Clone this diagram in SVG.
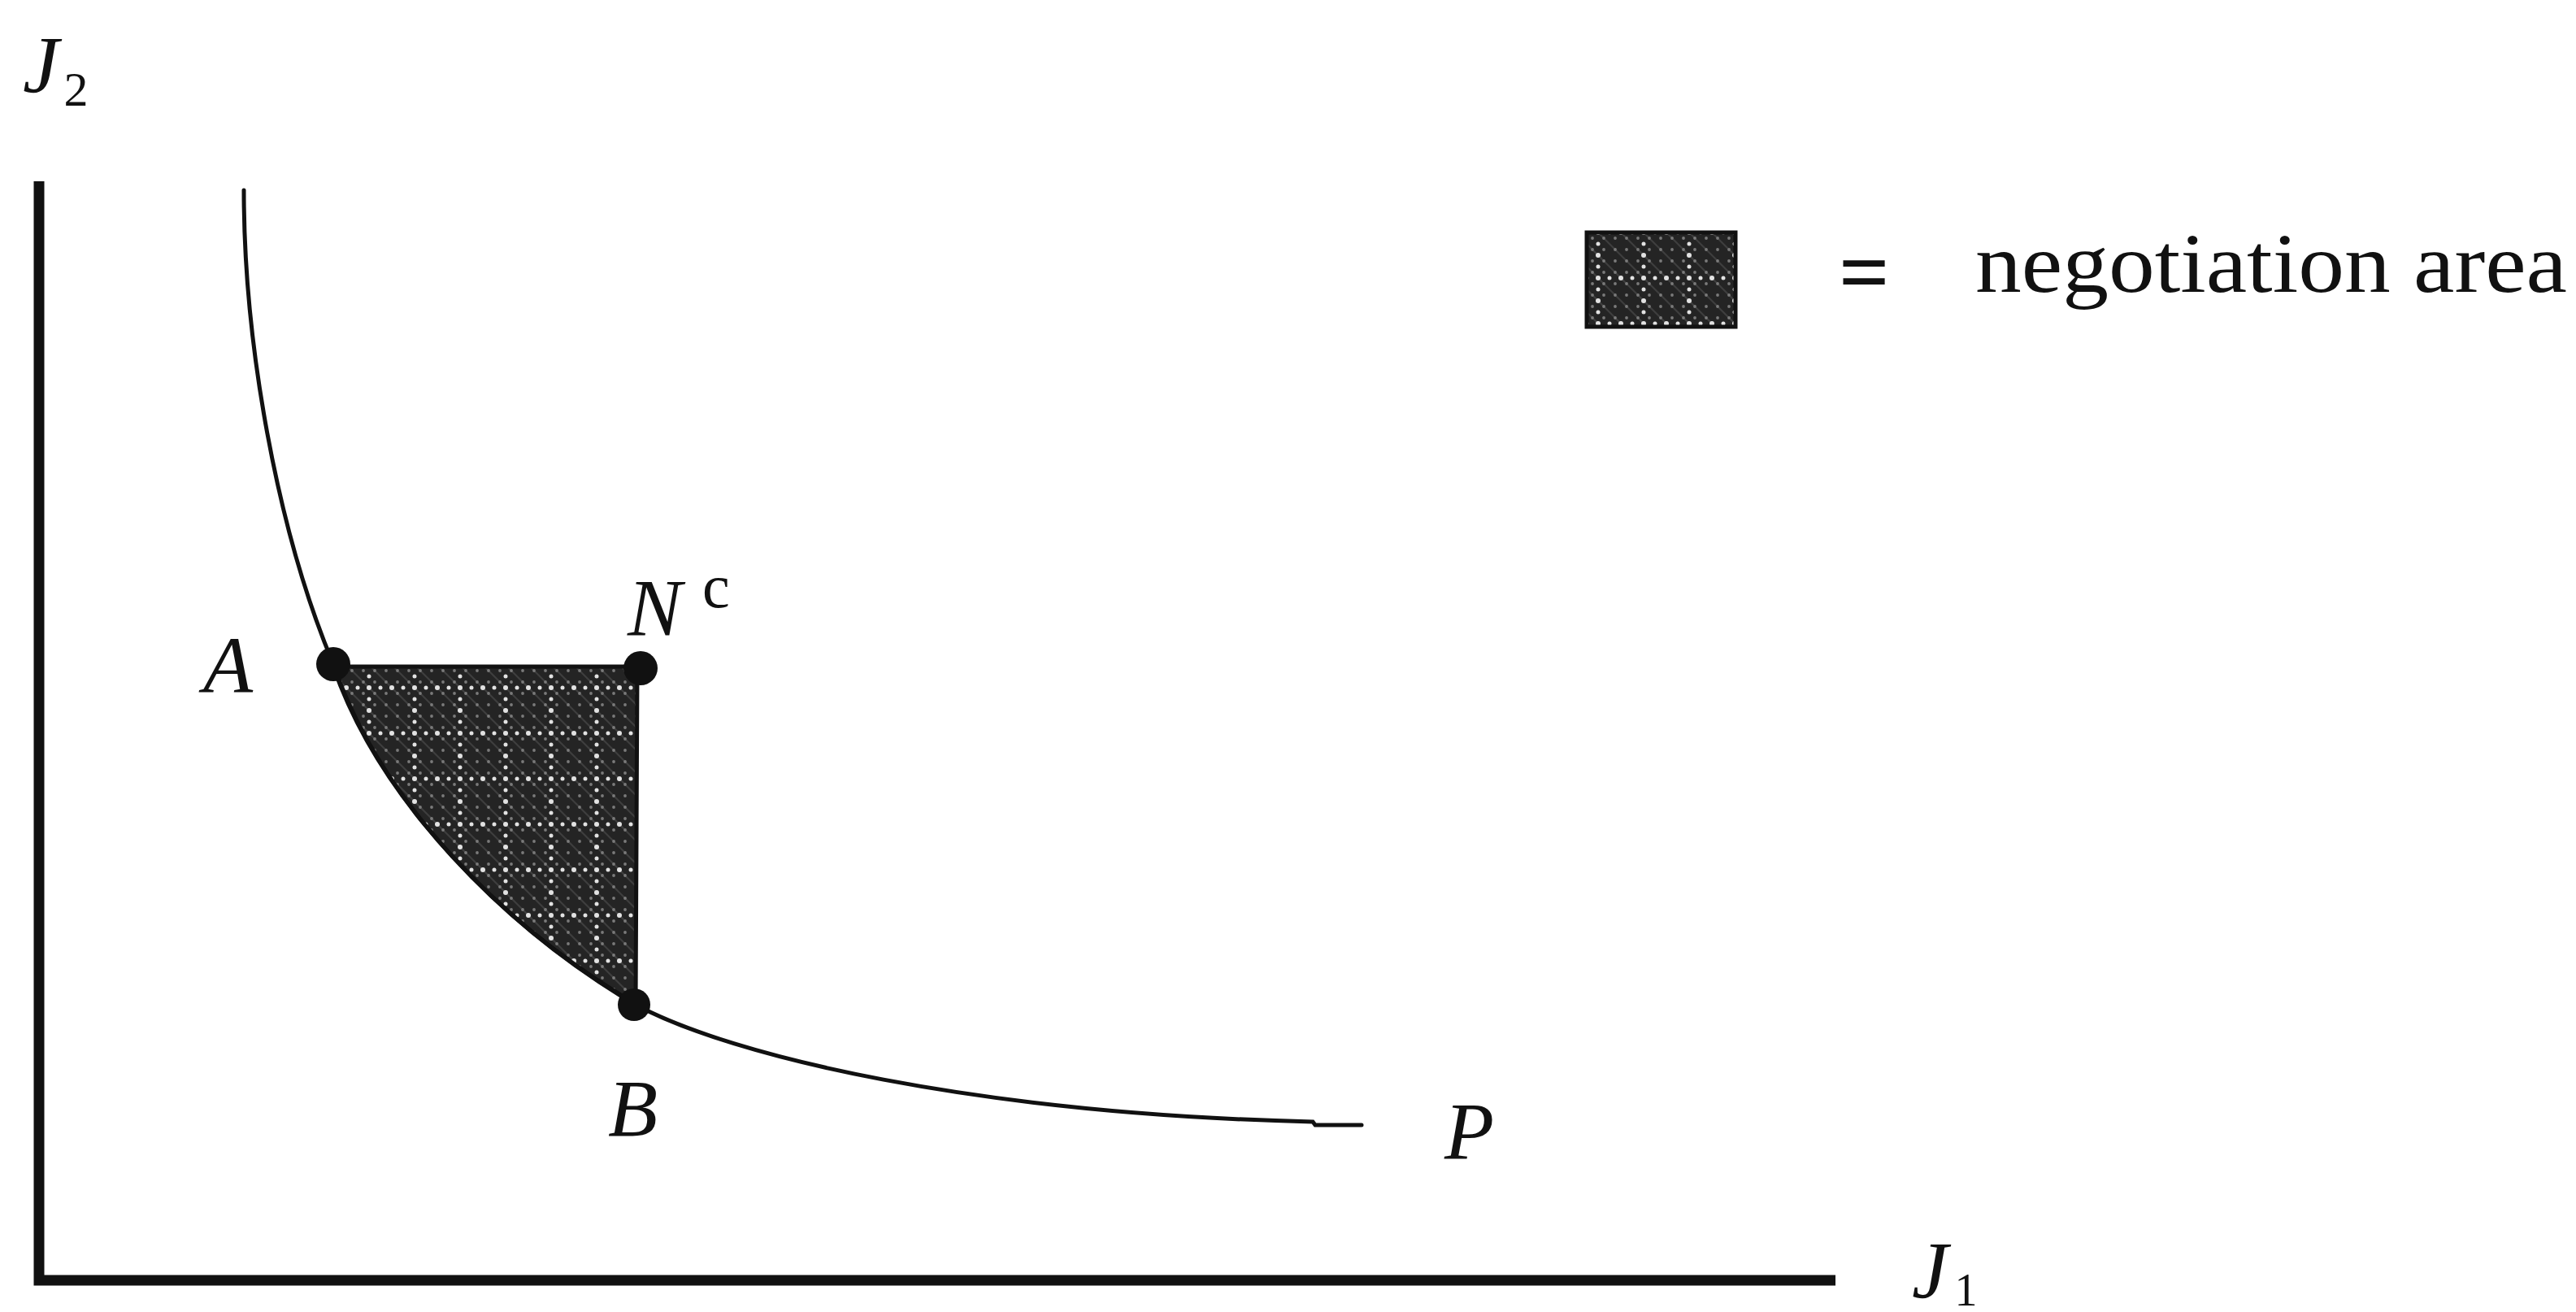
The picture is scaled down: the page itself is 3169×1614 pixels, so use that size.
<svg xmlns="http://www.w3.org/2000/svg" width="3169" height="1614" viewBox="0 0 3169 1614">
  <style>
    .lbl { font-family: "Liberation Serif", "Times New Roman", serif; font-style: italic; fill: #111; }
    .txt { font-family: "Liberation Serif", "Times New Roman", serif; fill: #111; }
    .axis { fill: none; stroke: #111; stroke-width: 13; stroke-linejoin: miter; }
    .curve { fill: none; stroke: #111; stroke-width: 5; stroke-linecap: round; }
    .pt { fill: #111; }
    .shade { fill: url(#dots); stroke: #111; stroke-width: 5; stroke-linejoin: round; }
  </style>
  <defs>
    <pattern id="dots" patternUnits="userSpaceOnUse" width="56" height="56" x="6" y="6">
      <rect width="56" height="56" fill="#242424"/>
      <g stroke="#3e3e3e" stroke-width="2">
        <path d="M 0 0 L 56 56 M 28 0 L 56 28 M 0 28 L 28 56"/>
      </g>
      <g fill="#7a7a7a">
        <circle cx="7" cy="7" r="1.9"/><circle cx="21" cy="7" r="1.9"/><circle cx="35" cy="7" r="1.9"/><circle cx="49" cy="7" r="1.9"/>
        <circle cx="7" cy="21" r="1.9"/><circle cx="21" cy="21" r="1.9"/><circle cx="35" cy="21" r="1.9"/><circle cx="49" cy="21" r="1.9"/>
        <circle cx="7" cy="35" r="1.9"/><circle cx="21" cy="35" r="1.9"/><circle cx="35" cy="35" r="1.9"/><circle cx="49" cy="35" r="1.9"/>
        <circle cx="7" cy="49" r="1.9"/><circle cx="21" cy="49" r="1.9"/><circle cx="35" cy="49" r="1.9"/><circle cx="49" cy="49" r="1.9"/>
      </g>
      <g fill="#e2e2e2">
        <circle cx="0" cy="0" r="3"/><circle cx="14" cy="0" r="2.5"/><circle cx="28" cy="0" r="3"/><circle cx="42" cy="0" r="2.5"/><circle cx="56" cy="0" r="3"/>
        <circle cx="0" cy="14" r="2.5"/><circle cx="0" cy="28" r="3"/><circle cx="0" cy="42" r="2.5"/><circle cx="0" cy="56" r="3"/>
        <circle cx="14" cy="56" r="2.5"/><circle cx="28" cy="56" r="3"/><circle cx="42" cy="56" r="2.5"/><circle cx="56" cy="56" r="3"/>
        <circle cx="56" cy="14" r="2.5"/><circle cx="56" cy="28" r="3"/><circle cx="56" cy="42" r="2.5"/>
      </g>
    </pattern>
  </defs>
  <rect width="3169" height="1614" fill="#ffffff"/>

  <g id="axes">
    <path class="axis" d="M 48 223 V 1575 H 2258"/>
    <text class="lbl" x="28" y="113" font-size="100">J<tspan font-style="normal" font-size="60" dx="6" dy="17">2</tspan></text>
    <text class="lbl" x="2352" y="1596" font-size="100">J<tspan font-style="normal" font-size="56" dx="8" dy="10">1</tspan></text>
  </g>

  <g id="negotiation-area">
    <path class="shade" d="M 410 820 L 784 820 L 782 1235 C 620 1140, 467 985, 410 820 Z"/>
  </g>

  <g id="connectors">
    <path id="pareto-curve" class="curve" d="M 300 234 C 300 420, 340 650, 410 817 C 467 985, 620 1140, 780 1235 C 900 1300, 1200 1370, 1615 1380 L 1618 1384 L 1675 1384"/>
  </g>

  <g id="point-A">
    <circle class="pt" cx="410" cy="817" r="21"/>
    <text class="lbl" x="250" y="852" font-size="100">A</text>
  </g>
  <g id="point-Nc">
    <circle class="pt" cx="788" cy="822" r="21"/>
    <text class="lbl" x="772" y="781" font-size="100">N</text>
    <text class="txt" x="864" y="747" font-size="76">c</text>
  </g>
  <g id="point-B">
    <circle class="pt" cx="780" cy="1236" r="20"/>
    <text class="lbl" x="748" y="1397" font-size="100">B</text>
  </g>
  <g id="label-P">
    <text class="lbl" x="1777" y="1425" font-size="100">P</text>
  </g>

  <g id="legend">
    <rect x="1952" y="286" width="183" height="116" fill="url(#dots)" stroke="#111" stroke-width="5"/>
    <text class="txt" x="2262" y="372" font-size="110" font-weight="bold">=</text>
    <text class="txt" x="2430" y="359" font-size="104" textLength="728" lengthAdjust="spacingAndGlyphs">negotiation area</text>
  </g>
</svg>
